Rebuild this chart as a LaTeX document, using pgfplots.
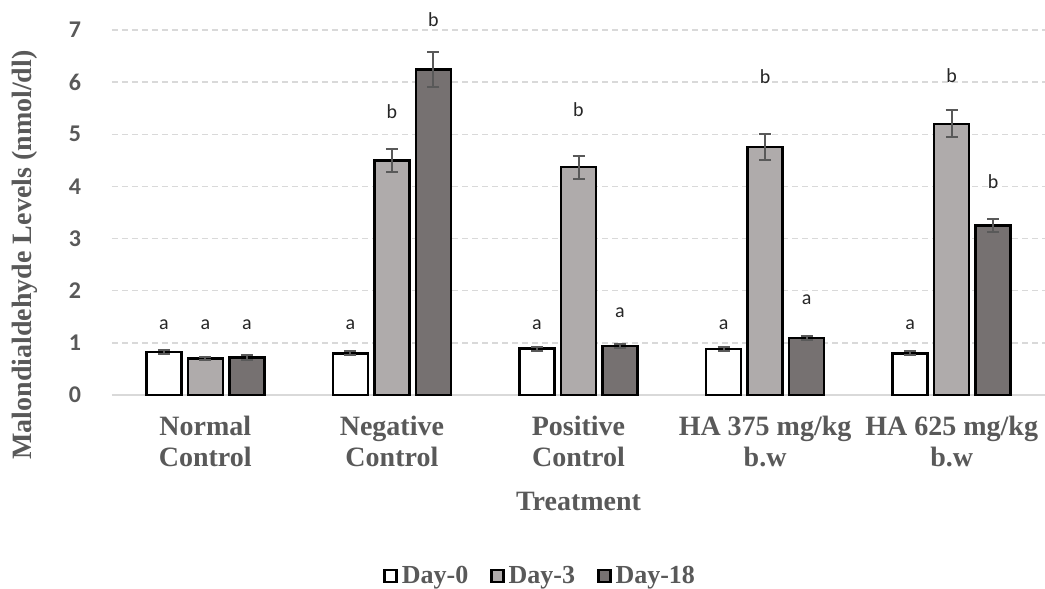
\documentclass[border=0pt]{standalone}
\usepackage{pgfplots}
\pgfplotsset{compat=1.18}
\usepackage{fontspec}
\setmainfont{Liberation Serif}
\newfontfamily\carlito{Carlito}
\definecolor{txt}{HTML}{595959}
\definecolor{gridc}{HTML}{D9D9D9}
\definecolor{dthree}{HTML}{AFABAB}
\definecolor{deighteen}{HTML}{767171}
\begin{document}
\begin{tikzpicture}
\begin{axis}[
  at={(0,0)}, anchor=south west,
  scale only axis, width=466.5pt, height=182.5pt,
  ybar=3.25pt, bar width=17.5pt,
  xmin=-0.5, xmax=4.5, ymin=0, ymax=7,
  xtick={0,1,2,3,4},
  xticklabels={{Normal\\Control},{Negative\\Control},{Positive\\Control},{HA 375 mg/kg\\b.w},{HA 625 mg/kg\\b.w}},
  xticklabel style={align=center, font=\fontsize{14}{15.5}\selectfont\bfseries, text=txt, yshift=-7pt},
  ytick={0,1,2,3,4,5,6,7},
  yticklabel style={font=\carlito\fontsize{12}{14}\selectfont\bfseries, text=txt, xshift=-12pt},
  /pgf/number format/assume math mode=true,
  axis line style={draw=none},
  major tick length=0pt,
  ymajorgrids,
  grid style={gridc, line width=0.75pt, dash pattern=on 3pt off 2pt},
  extra y ticks={0}, extra y tick labels={},
  extra y tick style={grid style={gridc, line width=0.9pt, solid}},
  error bars/y dir=both, error bars/y explicit,
  error bars/error bar style={txt, line width=1pt},
  error bars/error mark options={rotate=90, mark size=3pt, line width=1pt, txt},
  clip=false,
  legend style={at={(0.46,-0.496)}, anchor=center, draw=none, legend columns=-1,
    font=\fontsize{13}{15}\selectfont\bfseries, text=txt,
    /tikz/every even column/.append style={column sep=9pt}},
  legend image code/.code={\draw[#1, line width=1.2pt] (0pt,-3pt) rectangle (6pt,3pt);},
  ylabel={Malondialdehyde Levels (nmol/dl)},
  every axis y label/.style={at={(axis description cs:-0.0932,0.3836)}, rotate=90, anchor=center, font=\fontsize{14}{16}\selectfont\bfseries, text=txt},
  xlabel={Treatment},
  every axis x label/.style={at={(axis description cs:0.5,-0.293)}, anchor=center, font=\fontsize{14}{16}\selectfont\bfseries, text=txt},
]
\addplot[draw=black, fill=white, line width=1.25pt] coordinates {
  (0,0.82) +- (0,0.04)
  (1,0.80) +- (0,0.04)
  (2,0.89) +- (0,0.04)
  (3,0.88) +- (0,0.04)
  (4,0.80) +- (0,0.04)
};
\addplot[draw=black, fill=dthree, line width=1.25pt] coordinates {
  (0,0.70) +- (0,0.03)
  (1,4.50) +- (0,0.22)
  (2,4.37) +- (0,0.22)
  (3,4.76) +- (0,0.25)
  (4,5.20) +- (0,0.26)
};
\addplot[draw=black, fill=deighteen, line width=1.25pt] coordinates {
  (0,0.72) +- (0,0.04)
  (1,6.24) +- (0,0.33)
  (2,0.94) +- (0,0.04)
  (3,1.09) +- (0,0.04)
  (4,3.25) +- (0,0.13)
};
\legend{Day-0,Day-3,Day-18}
\tikzset{lt/.style={font=\carlito\fontsize{10}{12}\selectfont, text=black!85, inner sep=0pt, anchor=center}}
\node[lt] at (axis cs:-0.2224,1.34) {a};
\node[lt] at (axis cs:0,1.34) {a};
\node[lt] at (axis cs:0.2224,1.34) {a};
\node[lt] at (axis cs:0.7776,1.34) {a};
\node[lt] at (axis cs:1,5.43) {b};
\node[lt] at (axis cs:1.2224,7.2) {b};
\node[lt] at (axis cs:1.7776,1.34) {a};
\node[lt] at (axis cs:2,5.47) {b};
\node[lt] at (axis cs:2.2224,1.57) {a};
\node[lt] at (axis cs:2.7776,1.34) {a};
\node[lt] at (axis cs:3,6.1) {b};
\node[lt] at (axis cs:3.2224,1.82) {a};
\node[lt] at (axis cs:3.7776,1.34) {a};
\node[lt] at (axis cs:4,6.12) {b};
\node[lt] at (axis cs:4.2224,4.09) {b};
\end{axis}
\pgfresetboundingbox
\path[use as bounding box] (-56pt,-97pt) rectangle (466.5pt,197.5pt);
\end{tikzpicture}
\end{document}
